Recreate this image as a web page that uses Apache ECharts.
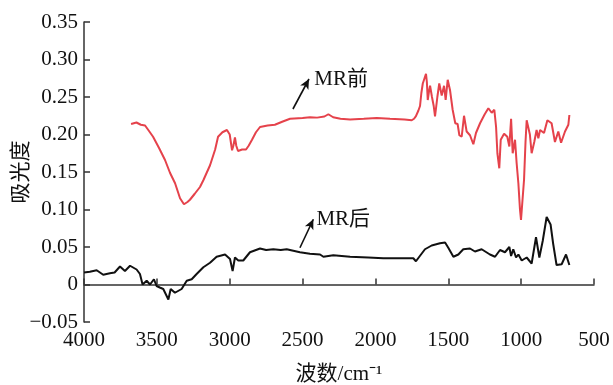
<!DOCTYPE html>
<html>
<head>
<meta charset="utf-8">
<script src="https://cdn.jsdelivr.net/npm/echarts@6/dist/echarts.min.js"></script>
<style>
html, body { margin: 0; padding: 0; background: #fff; }
#chart { width: 613px; height: 385px; }
</style>
</head>
<body>
<div id="chart"></div>
<script>
// MR前 (red)
var redWn = [3677, 3640, 3610, 3581, 3555, 3526, 3485, 3444, 3410, 3375, 3341, 3314, 3290, 3273, 3240, 3204, 3181, 3135, 3100, 3080,
	3050, 3019, 3000, 2984, 2975, 2964, 2955, 2943, 2915, 2888, 2870, 2847, 2820, 2792, 2740, 2690, 2640, 2586, 2500, 2449,
	2400, 2350, 2323, 2290, 2240, 2174, 2080, 1991, 1900, 1800, 1751, 1735, 1722, 1705, 1694, 1685, 1675, 1663, 1653, 1647,
	1641, 1632, 1625, 1612, 1600, 1591, 1575, 1562, 1545, 1529, 1518, 1504, 1488, 1470, 1452, 1436, 1424, 1408, 1392, 1374,
	1351, 1328, 1310, 1282, 1250, 1225, 1202, 1184, 1172, 1163, 1150, 1140, 1117, 1095, 1081, 1069, 1058, 1042, 1031, 1019,
	1008, 1001, 990, 980, 970, 962, 951, 940, 928, 910, 894, 882, 870, 859, 843, 820, 791, 768, 745, 726, 699, 676, 669];
var redAbs = [0.214, 0.216, 0.213, 0.212, 0.205, 0.197, 0.182, 0.166, 0.149, 0.135, 0.115, 0.107, 0.110, 0.113, 0.121, 0.130, 0.139, 0.159, 0.180, 0.197,
	0.203, 0.206, 0.200, 0.179, 0.185, 0.196, 0.185, 0.178, 0.180, 0.180, 0.185, 0.193, 0.203, 0.210, 0.212, 0.213, 0.217, 0.221, 0.222, 0.223,
	0.2225, 0.224, 0.227, 0.223, 0.221, 0.220, 0.221, 0.222, 0.221, 0.220, 0.219, 0.221, 0.2245, 0.232, 0.238, 0.255, 0.268, 0.275, 0.281, 0.270,
	0.246, 0.258, 0.265, 0.250, 0.238, 0.224, 0.250, 0.268, 0.252, 0.265, 0.246, 0.273, 0.259, 0.233, 0.215, 0.214, 0.199, 0.197, 0.225, 0.204,
	0.199, 0.187, 0.202, 0.215, 0.227, 0.235, 0.229, 0.233, 0.210, 0.175, 0.155, 0.193, 0.201, 0.197, 0.184, 0.221, 0.175, 0.193, 0.162, 0.135,
	0.100, 0.086, 0.084, 0.140, 0.190, 0.219, 0.221, 0.200, 0.175, 0.190, 0.206, 0.195, 0.206, 0.208, 0.202, 0.219, 0.215, 0.190, 0.204, 0.189, 0.204, 0.213, 0.226];

// MR后 (black)
var blackWn = [4000, 3960, 3913, 3868, 3822, 3790, 3753, 3719, 3684, 3639, 3616, 3598, 3570, 3547, 3520, 3502, 3480, 3456, 3421, 3405,
	3376, 3330, 3295, 3261, 3227, 3181, 3135, 3090, 3032, 2998, 2980, 2964, 2941, 2907, 2861, 2792, 2750, 2701, 2650, 2609,
	2518, 2450, 2380, 2357, 2289, 2174, 2050, 1946, 1840, 1740, 1722, 1699, 1660, 1614, 1557, 1522, 1500, 1465, 1431, 1397,
	1351, 1317, 1271, 1214, 1179, 1145, 1111, 1081, 1069, 1054, 1035, 1019, 996, 962, 928, 898, 875, 852, 825, 798,
	780, 757, 722, 692, 669];
var blackAbs = [0.016, 0.017, 0.019, 0.013, 0.015, 0.016, 0.024, 0.018, 0.025, 0.020, 0.014, 0.000, 0.005, 0.000, 0.007, -0.002, -0.004, -0.006, -0.020, -0.006,
	-0.011, -0.006, 0.005, 0.007, 0.014, 0.023, 0.029, 0.037, 0.040, 0.034, 0.018, 0.036, 0.032, 0.032, 0.043, 0.048, 0.046, 0.047, 0.046, 0.047,
	0.043, 0.041, 0.040, 0.037, 0.039, 0.037, 0.036, 0.035, 0.035, 0.035, 0.031, 0.037, 0.047, 0.052, 0.055, 0.056, 0.049, 0.037, 0.040, 0.047,
	0.048, 0.044, 0.047, 0.040, 0.037, 0.046, 0.043, 0.050, 0.038, 0.047, 0.036, 0.040, 0.032, 0.036, 0.028, 0.063, 0.036, 0.058, 0.090, 0.080,
	0.054, 0.026, 0.027, 0.040, 0.026];

var xTicks = { min: 500, max: 4000, interval: 500 };
var yTicks = { min: -0.05, max: 0.35, interval: 0.05 };

// 注释: arrow start, arrow end, text anchor
var redNote = { text: "MR前", from: [2566, 0.234], to: [2456, 0.274], at: [2420, 0.273] };
var blackNote = { text: "MR后", from: [2518, 0.049], to: [2426, 0.087], at: [2405, 0.087] };

var FONT = "'Liberation Serif', 'Noto Sans CJK SC', serif";

function zip(a, b) {
	var out = [];
	for (var i = 0; i < a.length; i++) out.push([a[i], b[i]]);
	return out;
}

function noteMarks(note) {
	return {
		markLine: {
			silent: true,
			symbol: ['none', 'arrow'],
			symbolSize: [7, 10],
			lineStyle: { color: '#111', width: 1.6, type: 'solid' },
			label: { show: false },
			data: [[{ coord: note.from }, { coord: note.to }]]
		},
		markPoint: {
			silent: true,
			symbol: 'circle',
			symbolSize: 0,
			label: {
				show: true, position: 'right', distance: 0, formatter: note.text,
				color: '#111', fontSize: 21, fontFamily: FONT
			},
			data: [{ coord: note.at }]
		}
	};
}

var chart = echarts.init(document.getElementById('chart'));

var redSeries = {
	type: 'line', name: 'MR前', data: zip(redWn, redAbs), showSymbol: false,
	lineStyle: { color: '#e5424b', width: 2 }, itemStyle: { color: '#e5424b' }
};
var blackSeries = {
	type: 'line', name: 'MR后', data: zip(blackWn, blackAbs), showSymbol: false,
	lineStyle: { color: '#111', width: 2 }, itemStyle: { color: '#111' }
};
Object.assign(redSeries, noteMarks(redNote));
Object.assign(blackSeries, noteMarks(blackNote));

chart.setOption({
	animation: false,
	backgroundColor: '#fff',
	grid: { left: 84, right: 19, top: 22, bottom: 63, containLabel: false, outerBoundsMode: 'none' },
	xAxis: {
		type: 'value', inverse: true,
		min: xTicks.min, max: xTicks.max, interval: xTicks.interval,
		name: '波数/cm⁻¹', nameLocation: 'middle', nameGap: 42, nameMoveOverlap: false,
		nameTextStyle: { fontSize: 21, color: '#111', fontFamily: FONT },
		axisLine: { lineStyle: { color: '#333', width: 1.5 } },
		axisTick: { inside: true, length: 6, lineStyle: { color: '#333', width: 1.5 } },
		axisLabel: {
			fontSize: 21, color: '#111', fontFamily: FONT, margin: 8,
			formatter: function(v) { return String(v); }
		},
		splitLine: { show: false }
	},
	yAxis: {
		type: 'value',
		min: yTicks.min, max: yTicks.max, interval: yTicks.interval,
		name: '吸光度', nameLocation: 'middle', nameGap: 52, nameMoveOverlap: false,
		nameTextStyle: { fontSize: 21, color: '#111', fontFamily: FONT },
		axisLine: { show: true, lineStyle: { color: '#333', width: 1.5 } },
		axisTick: { show: true, inside: true, length: 6, lineStyle: { color: '#333', width: 1.5 } },
		axisLabel: {
			fontSize: 21, color: '#111', fontFamily: FONT, margin: 6,
			formatter: function(v) {
				if (Math.abs(v) < 1e-9) return '0';
				return (v < 0 ? '−' : '') + Math.abs(v).toFixed(2);
			}
		},
		splitLine: { show: false }
	},
	series: [redSeries, blackSeries]
});
</script>
</body>
</html>
